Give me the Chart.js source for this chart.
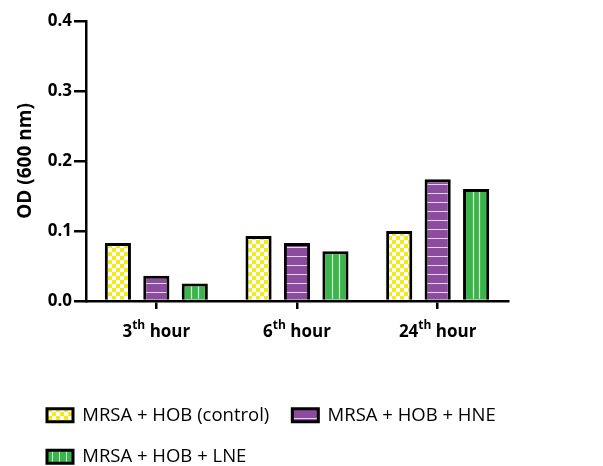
<!DOCTYPE html>
<html>
<head>
<meta charset="utf-8">
<script src="https://cdn.jsdelivr.net/npm/chart.js"></script>
<style>
  html, body { margin: 0; padding: 0; background: #fff; }
  #wrap { width: 603px; height: 466px; }
</style>
</head>
<body>
<div id="wrap"><canvas id="odChart"></canvas></div>
<script>
const hourNumbers = ['3', '6', '24'];
const hourSuffix = 'th';
const hourUnit = 'hour';
const controlValues = [0.083, 0.093, 0.100];
const hneValues = [0.036, 0.083, 0.174];
const lneValues = [0.025, 0.071, 0.160];
const seriesNames = ['MRSA + HOB (control)', 'MRSA + HOB + HNE', 'MRSA + HOB + LNE'];
const yTicks = [0, 0.1, 0.2, 0.3, 0.4];

const YELLOW = '#F4EA1A';
const PURPLE = '#8B4C9E';
const GREEN = '#3AB54A';
const BOLD = 'bold 17px "Open Sans"';
const SUP = 'bold 12px "Open Sans"';

function makePattern(w, h, draw) {
    const c = document.createElement('canvas');
    c.width = w;
    c.height = h;
    const g = c.getContext('2d');
    draw(g);
    return document.createElement('canvas').getContext('2d').createPattern(c, 'repeat');
}

const checker = makePattern(8, 8, function(g) {
    g.fillStyle = '#FFFFFF';
    g.fillRect(0, 0, 8, 8);
    g.fillStyle = YELLOW;
    g.fillRect(0, 0, 4, 4);
    g.fillRect(4, 4, 4, 4);
});

const hLines = makePattern(4, 9, function(g) {
    g.fillStyle = PURPLE;
    g.fillRect(0, 0, 4, 9);
    g.fillStyle = '#E6D3EC';
    g.fillRect(0, 4, 4, 1);
});

const vLinesLegend = makePattern(7, 4, function(g) {
    g.fillStyle = GREEN;
    g.fillRect(0, 0, 7, 4);
    g.fillStyle = '#D6F0D8';
    g.fillRect(3, 0, 1, 4);
});

// white stripes inside green bars, placed from each bar's own geometry
const greenStripes = {
    id: 'greenStripes',
    afterDatasetsDraw(chart) {
        const meta = chart.getDatasetMeta(2);
        const c = chart.ctx;
        c.save();
        c.strokeStyle = '#D6F0D8';
        c.lineWidth = 1.2;
        meta.data.forEach(function(bar) {
            const inner = bar.width - 6;
            const left = bar.x - inner / 2;
            [1 / 3, 2 / 3].forEach(function(f) {
                const x = Math.round(left + inner * f) + 0.5;
                c.beginPath();
                c.moveTo(x, bar.y + 3);
                c.lineTo(x, bar.base - 1);
                c.stroke();
            });
        });
        c.restore();
    }
};

// x labels with a real superscript "th"
const hourLabels = {
    id: 'hourLabels',
    afterDraw(chart) {
        const sx = chart.scales.x;
        const c = chart.ctx;
        c.save();
        c.fillStyle = '#000000';
        c.textBaseline = 'alphabetic';
        c.textAlign = 'left';
        const base = sx.top + 36;
        hourNumbers.forEach(function(num, i) {
            c.font = BOLD;
            const wNum = c.measureText(num).width;
            const wUnit = c.measureText(' ' + hourUnit).width;
            c.font = SUP;
            const wSup = c.measureText(hourSuffix).width;
            let x = sx.getPixelForTick(i) - (wNum + wSup + wUnit) / 2;
            c.font = BOLD;
            c.fillText(num, x, base);
            x += wNum;
            c.font = SUP;
            c.fillText(hourSuffix, x, base - 8);
            x += wSup;
            c.font = BOLD;
            c.fillText(' ' + hourUnit, x, base);
        });
        c.restore();
    }
};

// place legend rows like the original figure (left-aligned block)
const legendShift = {
    id: 'legendShift',
    afterLayout(chart) {
        const lg = chart.legend;
        const dx = 24 - lg.left;
        lg.left += dx;
        lg.right += dx;
        const dy = 383 - lg.top;
        lg.top += dy;
        lg.bottom += dy;
    }
};

new Chart(document.getElementById('odChart'), {
    type: 'bar',
    data: {
        labels: hourNumbers.map(n => n + hourSuffix + ' ' + hourUnit),
        datasets: [
            { label: seriesNames[0], data: controlValues, backgroundColor: checker },
            { label: seriesNames[1], data: hneValues, backgroundColor: hLines },
            { label: seriesNames[2], data: lneValues, backgroundColor: GREEN }
        ]
    },
    options: {
        responsive: true,
        maintainAspectRatio: false,
        animation: false,
        layout: {
            padding: { top: 21, right: 14, bottom: 30, left: 14 }
        },
        datasets: {
            bar: {
                borderColor: '#000000',
                borderWidth: 3,
                borderSkipped: 'bottom',
                categoryPercentage: 0.82,
                barPercentage: 0.68
            }
        },
        scales: {
            x: {
                afterFit(scale) { scale.height = 42; },
                border: { color: '#000000', width: 2.5 },
                grid: {
                    offset: false,
                    drawOnChartArea: false,
                    color: '#000000',
                    lineWidth: 2.5,
                    tickLength: 8
                },
                ticks: { display: false }
            },
            y: {
                min: 0,
                max: 0.4,
                afterBuildTicks(scale) {
                    scale.ticks = yTicks.map(v => ({ value: v }));
                },
                afterFit(scale) { scale.width = 72; },
                border: { color: '#000000', width: 2.5 },
                grid: {
                    drawOnChartArea: false,
                    color: '#000000',
                    lineWidth: 2.5,
                    tickLength: 12
                },
                ticks: {
                    color: '#000000',
                    padding: 2,
                    font: { family: 'Open Sans', size: 17, weight: 'bold' },
                    callback: v => v.toFixed(1)
                },
                title: {
                    display: true,
                    text: 'OD (600 nm)',
                    color: '#000000',
                    padding: { top: 0, bottom: 4 },
                    font: { family: 'Open Sans', size: 19, weight: 'bold' }
                }
            },
            // empty right-hand spacer so the plot ends where the original does
            spacer: {
                position: 'right',
                min: 0,
                max: 0.4,
                afterFit(scale) { scale.width = 81; },
                border: { display: false },
                grid: { display: false },
                ticks: { display: false }
            }
        },
        plugins: {
            legend: {
                position: 'bottom',
                align: 'start',
                labels: {
                    color: '#000000',
                    boxWidth: 26,
                    boxHeight: 13,
                    padding: 23,
                    font: { family: 'Open Sans', size: 18.5 },
                    generateLabels(chart) {
                        const fills = [checker, hLines, vLinesLegend];
                        return seriesNames.map((name, i) => ({
                            text: name,
                            fillStyle: fills[i],
                            strokeStyle: '#000000',
                            lineWidth: 3,
                            fontColor: '#000000',
                            datasetIndex: i,
                            hidden: false
                        }));
                    }
                }
            },
            tooltip: { enabled: false }
        }
    },
    plugins: [greenStripes, hourLabels, legendShift]
});
</script>
</body>
</html>
